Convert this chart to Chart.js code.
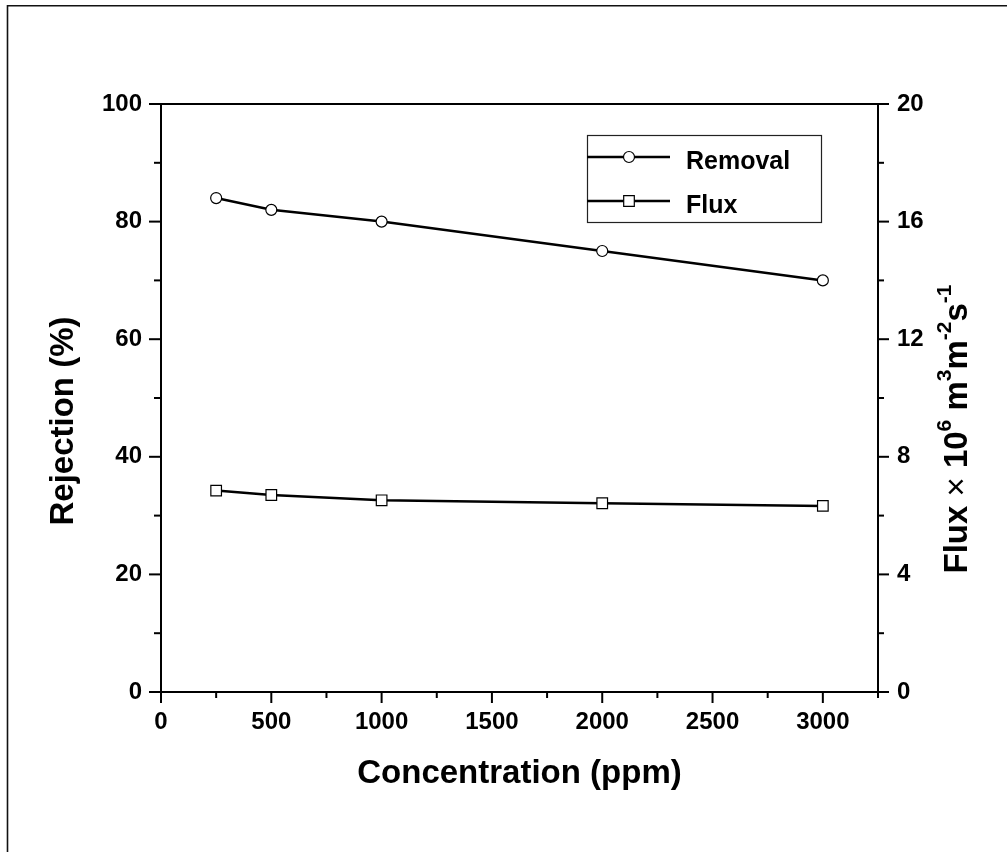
<!DOCTYPE html>
<html>
<head>
<meta charset="utf-8">
<title>Rejection and flux vs concentration</title>
<script src="https://cdn.jsdelivr.net/npm/chart.js@4/dist/chart.umd.min.js"></script>
<style>
  html, body { margin: 0; padding: 0; background: #ffffff; }
  #wrap { width: 1007px; height: 852px; }
</style>
</head>
<body>
<div id="wrap"><canvas id="chart" width="1007" height="852"></canvas></div>
<script>
// Feed concentration (ppm)
const concentration = [250, 500, 1000, 2000, 3000];
// Removal / rejection (%), left axis
const removal = [84, 82, 80, 75, 70];
// Permeate flux (x 10^6 m3 m-2 s-1), right axis
const flux = [6.85, 6.70, 6.52, 6.42, 6.33];

// Axis ticks
const xMajorTicks = [0, 500, 1000, 1500, 2000, 2500, 3000];
const xMinorTicks = [250, 750, 1250, 1750, 2250, 2750, 3250];
const leftMajorTicks = [0, 20, 40, 60, 80, 100];
const leftMinorTicks = [10, 30, 50, 70, 90];
const rightMajorTicks = [0, 4, 8, 12, 16, 20];
const rightMinorTicks = [2, 6, 10, 14, 18];

const FONT = '"Liberation Sans", Arial, Helvetica, sans-serif';
const INK = '#000000';

const asTicks = arr => arr.map(v => ({ value: v }));

// Page frame (top and left rules)
const framePlugin = {
  id: 'frame',
  beforeDraw(chart) {
    const ctx = chart.ctx;
    ctx.save();
    ctx.fillStyle = '#ffffff';
    ctx.fillRect(0, 0, chart.width, chart.height);
    ctx.strokeStyle = '#111111';
    ctx.lineWidth = 1.6;
    ctx.beginPath();
    ctx.moveTo(7.5, chart.height);
    ctx.lineTo(7.5, 5.8);
    ctx.lineTo(chart.width, 5.8);
    ctx.stroke();
    ctx.restore();
  }
};

// Major / minor tick marks on the outside of each axis, plus the top rule
const ticksPlugin = {
  id: 'axisTicks',
  afterDraw(chart) {
    const { ctx, chartArea: a, scales } = chart;
    ctx.save();
    ctx.strokeStyle = INK;
    ctx.lineWidth = 2;
    ctx.lineCap = 'butt';
    const seg = (x1, y1, x2, y2) => { ctx.beginPath(); ctx.moveTo(x1, y1); ctx.lineTo(x2, y2); ctx.stroke(); };
    // top rule
    seg(a.left - 1, a.top, a.right + 1, a.top);
    // bottom axis
    xMajorTicks.forEach(v => { const p = scales.x.getPixelForValue(v); seg(p, a.bottom, p, a.bottom + 11); });
    xMinorTicks.forEach(v => { const p = scales.x.getPixelForValue(v); seg(p, a.bottom, p, a.bottom + 6); });
    // left axis
    leftMajorTicks.forEach(v => { const p = scales.y.getPixelForValue(v); seg(a.left, p, a.left - 12, p); });
    leftMinorTicks.forEach(v => { const p = scales.y.getPixelForValue(v); seg(a.left, p, a.left - 7, p); });
    // right axis
    rightMajorTicks.forEach(v => { const p = scales.y1.getPixelForValue(v); seg(a.right, p, a.right + 11, p); });
    rightMinorTicks.forEach(v => { const p = scales.y1.getPixelForValue(v); seg(a.right, p, a.right + 6, p); });
    ctx.restore();
  }
};

// Axis titles for the two vertical axes (the right one carries superscripts)
const sideTitlesPlugin = {
  id: 'sideTitles',
  afterDraw(chart) {
    const { ctx, chartArea: a } = chart;
    ctx.save();
    ctx.fillStyle = INK;
    ctx.textBaseline = 'alphabetic';

    // left: Rejection (%)
    ctx.save();
    ctx.translate(a.left - 88, (a.top + a.bottom) / 2 + 23);
    ctx.rotate(-Math.PI / 2);
    ctx.font = 'bold 33px ' + FONT;
    ctx.textAlign = 'center';
    ctx.fillText('Rejection (%)', 0, 0);
    ctx.restore();

    // right: Flux × 10^6 m^3 m^-2 s^-1
    const mainFont = 'bold 33px ' + FONT;
    const signFont = '33px ' + FONT;
    const supFont = 'bold 21px ' + FONT;
    const parts = [
      { t: 'Flux ', f: mainFont, dy: 0 },
      { t: '\u00d7', f: signFont, dy: 0 },
      { t: ' 10', f: mainFont, dy: 0 },
      { t: '6', f: supFont, dy: -16 },
      { t: ' m', f: mainFont, dy: 0 },
      { t: '3', f: supFont, dy: -16 },
      { t: 'm', f: mainFont, dy: 0 },
      { t: '-2', f: supFont, dy: -16 },
      { t: 's', f: mainFont, dy: 0 },
      { t: '-1', f: supFont, dy: -16 }
    ];
    let total = 0;
    parts.forEach(p => { ctx.font = p.f; p.w = ctx.measureText(p.t).width; total += p.w; });
    ctx.save();
    ctx.translate(a.right + 89, (a.top + a.bottom) / 2 + 31);
    ctx.rotate(-Math.PI / 2);
    ctx.textAlign = 'left';
    let x = -total / 2;
    parts.forEach(p => {
      ctx.font = p.f;
      ctx.fillText(p.t, x, p.dy);
      x += p.w;
    });
    ctx.restore();
    ctx.restore();
  }
};

// Framed legend inside the plot: line with a centred marker, then the label
const boxLegendPlugin = {
  id: 'boxLegend',
  afterDraw(chart) {
    const { ctx, chartArea: a } = chart;
    const left = a.left + 426, top = a.top + 31, w = 234, h = 87;
    ctx.save();
    ctx.strokeStyle = '#222222';
    ctx.lineWidth = 1.2;
    ctx.strokeRect(left + 0.5, top + 0.5, w, h);
    const rows = [top + 22, top + 66];
    chart.data.datasets.forEach((ds, i) => {
      const y = rows[i];
      ctx.strokeStyle = ds.borderColor;
      ctx.lineWidth = ds.borderWidth;
      ctx.beginPath();
      ctx.moveTo(left, y);
      ctx.lineTo(left + 83, y);
      ctx.stroke();
      const opts = {
        pointStyle: ds.pointStyle,
        radius: ds.pointRadius,
        rotation: 0,
        borderWidth: ds.pointBorderWidth
      };
      ctx.fillStyle = ds.pointBackgroundColor;
      ctx.strokeStyle = ds.pointBorderColor;
      ctx.lineWidth = ds.pointBorderWidth;
      Chart.helpers.drawPoint(ctx, opts, left + 42, y);
      ctx.fillStyle = INK;
      ctx.font = 'bold 25px ' + FONT;
      ctx.textAlign = 'left';
      ctx.textBaseline = 'alphabetic';
      ctx.fillText(ds.label, left + 99, y + 12);
    });
    ctx.restore();
  }
};

const tickFont = { family: FONT, size: 24, weight: 'bold' };

new Chart(document.getElementById('chart'), {
  type: 'line',
  data: {
    datasets: [
      {
        label: 'Removal',
        data: concentration.map((c, i) => ({ x: c, y: removal[i] })),
        yAxisID: 'y',
        borderColor: INK,
        borderWidth: 2.5,
        pointStyle: 'circle',
        pointRadius: 5.5,
        pointBackgroundColor: '#ffffff',
        pointBorderColor: INK,
        pointBorderWidth: 1.2,
        tension: 0
      },
      {
        label: 'Flux',
        data: concentration.map((c, i) => ({ x: c, y: flux[i] })),
        yAxisID: 'y1',
        borderColor: INK,
        borderWidth: 2.5,
        pointStyle: 'rect',
        pointRadius: 7.5,
        pointBackgroundColor: '#ffffff',
        pointBorderColor: INK,
        pointBorderWidth: 1.2,
        tension: 0
      }
    ]
  },
  options: {
    responsive: false,
    animation: false,
    events: [],
    layout: { padding: { top: 104, left: 0, right: 0, bottom: 0 } },
    plugins: {
      legend: { display: false },
      tooltip: { enabled: false },
      title: { display: false }
    },
    scales: {
      x: {
        type: 'linear',
        position: 'bottom',
        min: 0,
        max: 3250,
        afterBuildTicks: s => { s.ticks = asTicks(xMajorTicks); },
        afterFit: s => { s.height = 160; },
        grid: { display: false, drawTicks: false },
        border: { display: true, color: INK, width: 2 },
        ticks: {
          color: INK,
          font: tickFont,
          padding: 16,
          maxRotation: 0,
          autoSkip: false,
          callback: v => String(v)
        },
        title: {
          display: true,
          text: 'Concentration (ppm)',
          color: INK,
          font: { family: FONT, size: 33, weight: 'bold' },
          padding: { top: 0, bottom: 58 }
        }
      },
      y: {
        type: 'linear',
        position: 'left',
        min: 0,
        max: 100,
        afterBuildTicks: s => { s.ticks = asTicks(leftMajorTicks); },
        afterFit: s => { s.width = 161; },
        grid: { display: false, drawTicks: false },
        border: { display: true, color: INK, width: 2 },
        ticks: { color: INK, font: tickFont, padding: 19, callback: v => String(v) }
      },
      y1: {
        type: 'linear',
        position: 'right',
        min: 0,
        max: 20,
        afterBuildTicks: s => { s.ticks = asTicks(rightMajorTicks); },
        afterFit: s => { s.width = 129; },
        grid: { display: false, drawTicks: false },
        border: { display: true, color: INK, width: 2 },
        ticks: { color: INK, font: tickFont, padding: 19, callback: v => String(v) }
      }
    }
  },
  plugins: [framePlugin, ticksPlugin, sideTitlesPlugin, boxLegendPlugin]
});
</script>
</body>
</html>
